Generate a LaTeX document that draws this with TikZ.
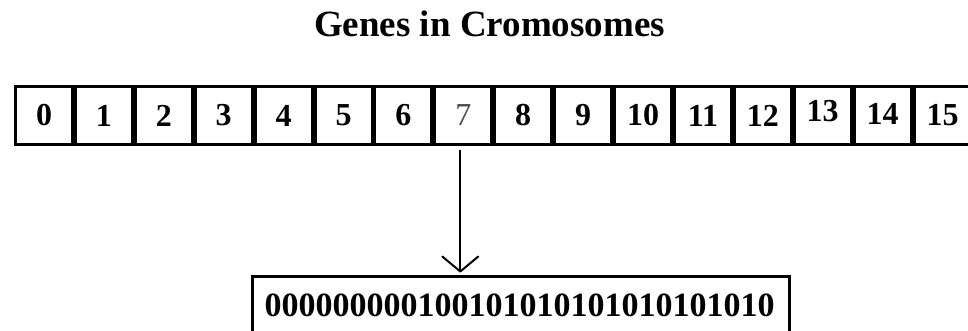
\documentclass[tikz,border=0pt]{standalone}
\usepackage{fontspec}
\setmainfont{Liberation Serif}
\usetikzlibrary{arrows.meta}
\begin{document}
\begin{tikzpicture}[x=1pt,y=1pt,
  title/.style={anchor=base, font=\bfseries\fontsize{37}{37}\selectfont},
  genebox/.style={draw=black, line width=3pt, minimum width=57pt, minimum height=58pt,
    inner sep=0pt, anchor=north west, font=\bfseries\fontsize{32}{32}\selectfont},
  chromobox/.style={draw=black, line width=2.7pt, minimum width=537pt, minimum height=80pt,
    inner sep=0pt, anchor=north west},
  bits/.style={anchor=base, font=\bfseries\fontsize{34}{34}\selectfont},
  pointer/.style={line width=2pt, -{Straight Barb[length=15pt,width=36pt,round]}}]
\useasboundingbox (0,0) rectangle (968,331);
\node[title] (head) at (489.5,294) {Genes in Cromosomes};
% row of genes
\foreach \i/\lbl in {0/0,1/1,2/2,3/3,4/4,5/5,6/6,7/{\mdseries\color{black!70}7},8/8,9/9,
    10/10,11/11,12/12,13/{\raisebox{9pt}{13}},14/{\raisebox{3pt}{14}},15/15}
  \node[genebox] (g\i) at ({14+59.9*\i},246) {\lbl};
% expanded gene
\node[chromobox] (gene) at (251,55.5) {};
\node[bits] (code) at (519.5,14) {000000000100101010101010101010};
\draw[pointer, shorten <=4pt, shorten >=3pt] ([xshift=-3pt]g7.south) -- ([xshift=-3pt]g7.south |- gene.north);
\end{tikzpicture}
\end{document}
